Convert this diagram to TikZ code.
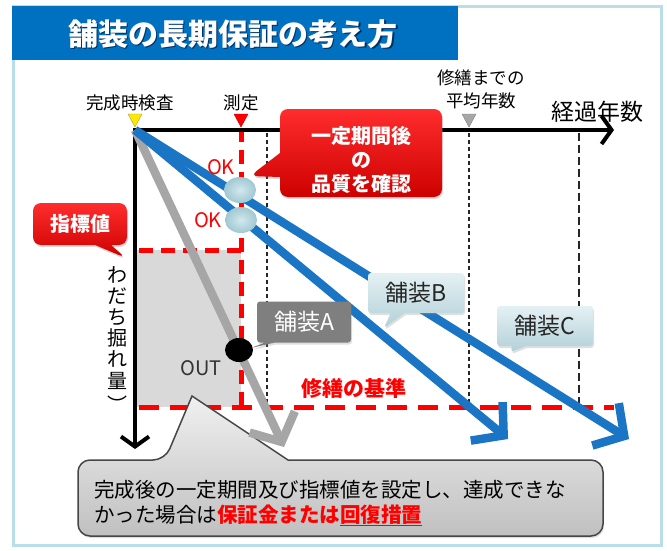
\documentclass[tikz,border=0pt]{standalone}
\usepackage{fontspec}
\newfontfamily\cjk{Noto Sans CJK JP}
\usetikzlibrary{arrows.meta,shapes.callouts,shapes.geometric,shadows}
\definecolor{framec}{RGB}{185,222,232}
\definecolor{titleblue}{RGB}{0,112,192}
\definecolor{titleshadow}{RGB}{0,50,100}
\definecolor{lineblue}{RGB}{27,117,197}
\definecolor{linegray}{RGB}{166,166,166}
\definecolor{boxgray}{RGB}{217,217,217}
\definecolor{redA}{RGB}{255,45,45}
\definecolor{redB}{RGB}{205,0,0}
\definecolor{okfill}{RGB}{160,200,210}
\definecolor{okin}{RGB}{210,232,238}
\definecolor{bctop}{RGB}{228,241,244}
\definecolor{bcbot}{RGB}{178,208,216}
\definecolor{agray}{RGB}{127,127,127}
\definecolor{notetop}{RGB}{240,240,240}
\definecolor{notebot}{RGB}{192,192,192}
\definecolor{noteedge}{RGB}{70,70,70}
\begin{document}
\begin{tikzpicture}[x=1pt,y=-1pt,
  lbl/.style={font=\cjk\fontsize{17.5}{23}\selectfont, inner sep=0pt, align=center},
  axisline/.style={line width=4pt, black, {Straight Barb[length=10pt,width=28pt]}-{Straight Barb[length=10pt,width=28pt]}},
  reddash/.style={draw=red, line width=5pt, dash pattern=on 20pt off 11pt},
  reddashv/.style={draw=red, line width=5pt, dash pattern=on 14pt off 8pt},
  thindash/.style={draw=black!85, line width=1.2pt, dash pattern=on 4pt off 3pt},
  longdash/.style={draw=black!85, line width=1.5pt, dash pattern=on 8pt off 4pt},
  trendline/.style={line width=8.5pt, -{Straight Barb[length=22pt,width=50pt]}},
  okball/.style={ellipse, minimum width=32pt, minimum height=26pt, inner sep=0pt, inner color=okin, outer color=okfill},
  redcall/.style={rectangle callout, rounded corners=8pt, top color=redA, bottom color=redB, draw=none, text=white,
     font=\cjk\bfseries\fontsize{20}{24}\selectfont, align=center, inner sep=0pt,
     drop shadow={opacity=0.3, shadow xshift=1pt, shadow yshift=-2pt}},
  bcall/.style={rectangle callout, rounded corners=3pt, top color=bctop, bottom color=bcbot, draw=none, text=black!85,
     font=\cjk\fontsize{23}{25}\selectfont, inner sep=0pt, minimum width=96pt, minimum height=40pt,
     callout pointer width=14pt, drop shadow={opacity=0.25, shadow xshift=1pt, shadow yshift=-2pt}},
  acall/.style={rectangle callout, rounded corners=3pt, fill=agray, draw=none, text=white,
     font=\cjk\fontsize{23}{25}\selectfont, inner sep=0pt, minimum width=94pt, minimum height=41pt,
     callout pointer width=10pt, drop shadow={opacity=0.25, shadow xshift=1pt, shadow yshift=-2pt}}
]
\useasboundingbox (0,0) rectangle (667,551);
\fill[white] (0,0) rectangle (667,551);
% frame and title
\draw[framec, line width=3pt] (13.5,7) rectangle (661,545);
\fill[titleblue] (12,6) rectangle (458,60);
\node[font=\cjk\bfseries\fontsize{30}{32}\selectfont, text=titleshadow, inner sep=0pt] (titlesh) at (234.2,35.2) {舗装の長期保証の考え方};
\node[font=\cjk\bfseries\fontsize{30}{32}\selectfont, text=white, inner sep=0pt] (title) at (233,34) {舗装の長期保証の考え方};
% gray area
\fill[boxgray] (137,250) rectangle (241,407);
% dashed guides
\draw[thindash] (267,133) -- (267,405);
\draw[thindash] (469,133) -- (469,405);
\draw[longdash] (579,133) -- (579,405);
\draw[reddashv] (241,128) -- (241,407);
\draw[reddashv] (139,250) -- (241,250);
\draw[reddash] (139,407) -- (614,407);
% axes
\coordinate (O) at (135,130);
\coordinate (xend) at (614,130);
\coordinate (yend) at (135,449);
\draw[axisline] (yend) -- (O) -- (xend);
% bottom note shape (under the trend lines)
\path[top color=notetop, bottom color=notebot, draw=noteedge, line width=1.5pt,
  drop shadow={opacity=0.25, shadow xshift=1pt, shadow yshift=-2pt}]
  (78,500) [rounded corners=12pt] -- (78,460) -- (165,460) [sharp corners] -- (192,396) -- (288,460)
  [rounded corners=12pt] -- (603,460) -- (603,536) -- (78,536) -- cycle;
% trend lines
\coordinate (Aend) at (284,447);
\coordinate (Bend) at (508,439);
\coordinate (Cend) at (629,439);
\draw[trendline, linegray] (O) -- (Aend);
\draw[trendline, lineblue] (O) -- (Bend);
\draw[trendline, lineblue] (O) -- (Cend);
% markers
\draw[fill=yellow!90!orange, draw=yellow!60!black, line width=0.4pt] (128,114) -- (142,114) -- (135,127) -- cycle;
\draw[fill=red, draw=red!70!black, line width=0.4pt] (234,114) -- (248,114) -- (241,127) -- cycle;
\draw[fill=gray!70, draw=gray, line width=0.4pt] (462,114) -- (476,114) -- (469,127) -- cycle;
% measurement points
\node[okball] (ok1) at (240,190) {};
\node[okball] (ok2) at (241,220) {};
\node[ellipse, fill=black, minimum width=28pt, minimum height=24pt, inner sep=0pt] (dot) at (239,350) {};
% labels
\node[lbl] (lkansei) at (130,103) {完成時検査};
\node[lbl] (lsokutei) at (241,103) {測定};
\node[lbl] (lheikin) at (481,89) {修繕までの\\平均年数};
\node[font=\cjk\fontsize{23}{25}\selectfont, inner sep=0pt] (lkeika) at (597,112) {経過年数};
\node[font=\cjk\fontsize{20}{22}\selectfont, text=red, inner sep=0pt] (okA) at (221,167) {OK};
\node[font=\cjk\fontsize{20}{22}\selectfont, text=red, inner sep=0pt] (okB) at (208,220) {OK};
\node[font=\cjk\fontsize{20}{22}\selectfont, text=black!80, inner sep=0pt] (out) at (201,368) {OUT};
\node[font=\cjk\bfseries\fontsize{21}{23}\selectfont, text=red, inner sep=0pt] (kijun) at (354,388) {修繕の基準};
\node[font=\cjk\fontsize{20}{21.2}\selectfont, inner sep=0pt, align=center, anchor=north] (ylab) at (117,266)
  {わ\\だ\\ち\\掘\\れ\\量};
\node[font=\cjk\fontsize{20}{22}\selectfont, inner sep=0pt, anchor=north] (yparen) at (117,396) {︶};
% callouts
\node[redcall, minimum width=162pt, minimum height=88pt, callout pointer width=24pt,
  callout absolute pointer={(250,176)}] (q) at (361,153) {};
\node[font=\cjk\bfseries\fontsize{20}{24}\selectfont, text=white, align=center, inner sep=0pt] (qtext) at (361,160)
  {一定期間後\\の\\品質を確認};
\node[redcall, minimum width=94pt, minimum height=42pt, callout pointer width=16pt,
  callout absolute pointer={(126,258)}] (idx) at (80,224) {指標値};
\node[acall, callout absolute pointer={(251,348)}] (pa) at (304,322) {舗装A};
\node[bcall, callout absolute pointer={(384,328)}] (pb) at (416,293) {舗装B};
\node[bcall, callout absolute pointer={(511,352)}] (pc) at (545,326) {舗装C};
% bottom note text
\node[font=\cjk\fontsize{20.5}{25}\selectfont, inner sep=0pt, align=left, anchor=west] (note) at (94,503)
  {完成後の一定期間及び指標値を設定し、達成できな\\かった場合は\textcolor{red}{\bfseries 保証金または\underline{回復措置}}};
\end{tikzpicture}
\end{document}
